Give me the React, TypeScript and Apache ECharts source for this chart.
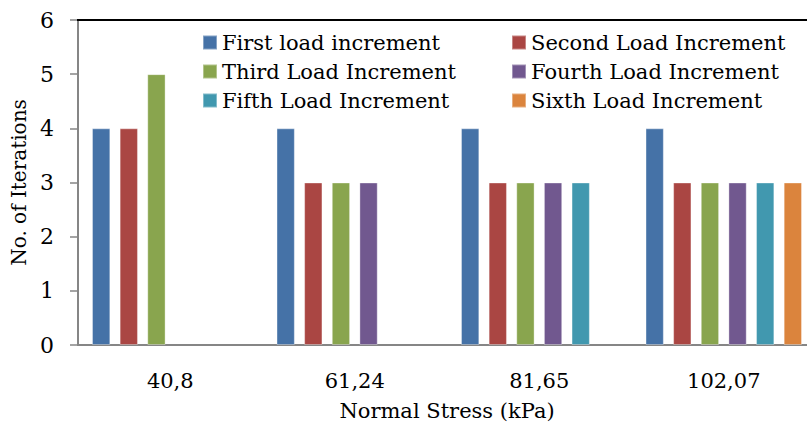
import React, { useEffect, useRef } from "react";
import * as echarts from "echarts";

const categories = ["40,8", "61,24", "81,65", "102,07"];
const seriesNames = [
  "First load increment",
  "Second Load Increment",
  "Third Load Increment",
  "Fourth Load Increment",
  "Fifth Load Increment",
  "Sixth Load Increment",
];
const first = [4, 4, 4, 4];
const second = [4, 3, 3, 3];
const third = [5, 3, 3, 3];
const fourth = [null, 3, 3, 3];
const fifth = [null, null, 3, 3];
const sixth = [null, null, null, 3];
const colors = ["#4572A7", "#AA4643", "#89A54E", "#71588F", "#4198AF", "#DB843D"];

const FONT = "DejaVu Serif";

export default function App() {
  const ref = useRef<HTMLDivElement>(null);
  useEffect(() => {
    if (!ref.current) return;
    const chart = echarts.init(ref.current, undefined, { renderer: "svg" });
    const values = [first, second, third, fourth, fifth, sixth];
    const legendText = { fontFamily: FONT, fontSize: 21, color: "#000" };
    chart.setOption({
      animation: false,
      color: colors,
      textStyle: { fontFamily: FONT, color: "#000" },
      grid: { left: 78, top: 20, right: 14, bottom: 74, containLabel: false },
      legend: [
        {
          data: [seriesNames[0], seriesNames[2], seriesNames[4]],
          orient: "vertical",
          left: 197,
          top: 27,
          itemWidth: 14,
          itemHeight: 14,
          itemGap: 8,
          icon: "rect",
          textStyle: legendText,
        },
        {
          data: [seriesNames[1], seriesNames[3], seriesNames[5]],
          orient: "vertical",
          left: 506,
          top: 27,
          itemWidth: 14,
          itemHeight: 14,
          itemGap: 8,
          icon: "rect",
          textStyle: legendText,
        },
      ],
      xAxis: {
        type: "category",
        data: categories,
        name: "Normal Stress (kPa)",
        nameLocation: "middle",
        nameGap: 55,
        nameTextStyle: { fontFamily: FONT, fontSize: 21, color: "#000" },
        axisLine: { lineStyle: { color: "#868686", width: 2 } },
        axisTick: { show: false },
        axisLabel: { fontFamily: FONT, fontSize: 21, color: "#000", margin: 25 },
      },
      yAxis: {
        type: "value",
        min: 0,
        max: 6,
        interval: 1,
        name: "No. of Iterations",
        nameLocation: "middle",
        nameGap: 46,
        nameRotate: 90,
        nameTextStyle: { fontFamily: FONT, fontSize: 20, color: "#000" },
        axisLine: { show: true, lineStyle: { color: "#868686", width: 2 } },
        axisTick: { show: true, inside: false, length: 8, lineStyle: { color: "#868686", width: 1.5 } },
        splitLine: { show: false },
        axisLabel: { fontFamily: FONT, fontSize: 22, color: "#000", margin: 24 },
      },
      graphic: [
        {
          type: "line",
          shape: { x1: 77, y1: 20, x2: 830, y2: 20 },
          style: { stroke: "#000", lineWidth: 2 },
          z: 10,
        },
      ],
      series: seriesNames.map((name, i) => ({
        name,
        type: "bar",
        data: values[i],
        barWidth: 18.3,
        barGap: "51%",
        itemStyle: { borderColor: "rgba(255,255,255,0.35)", borderWidth: 1 },
      })),
    });
    return () => chart.dispose();
  }, []);
  return (
    <div style={{ position: "fixed", left: 0, top: 0, width: 807, height: 426, overflow: "hidden", background: "#fff" }}>
      <div ref={ref} style={{ width: 830, height: 426 }} />
    </div>
  );
}
